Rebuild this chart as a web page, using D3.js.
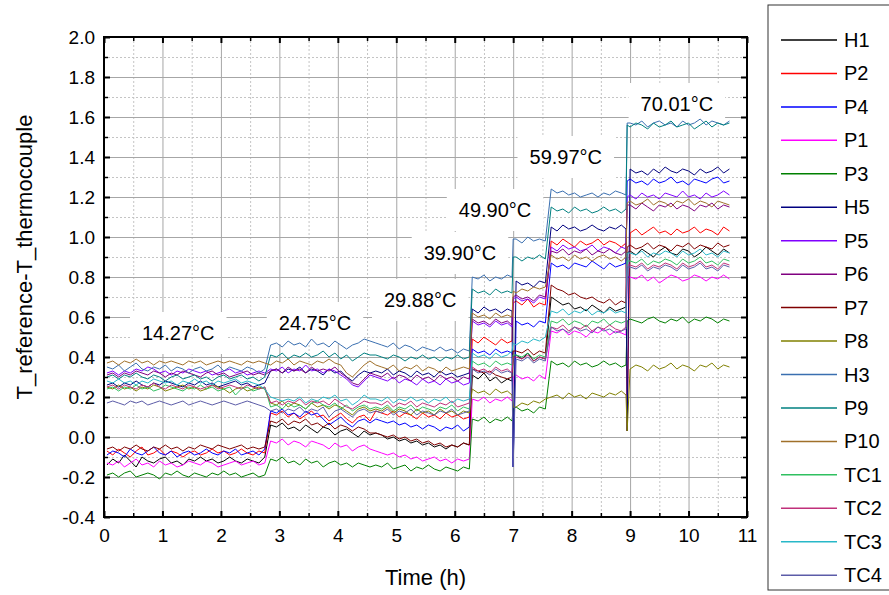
<!DOCTYPE html>
<html>
<head>
<meta charset="utf-8">
<script src="https://cdn.jsdelivr.net/npm/d3@7"></script>
<style>
  body { margin: 0; background: #fff; }
  svg { display: block; font-family: Arial, "Liberation Sans", sans-serif; }
</style>
</head>
<body>
<div id="chart"></div>
<script>
// sample times (h)
const time = [0.05,0.15,0.25,0.35,0.45,0.55,0.65,0.75,0.85,0.95,1.05,1.15,1.25,1.35,1.45,1.55,1.65,1.75,1.85,1.95,2.05,2.15,2.25,2.35,2.45,2.55,2.65,2.75,
  2.85,2.95,3.05,3.15,3.25,3.35,3.45,3.55,3.65,3.75,3.85,3.95,4.05,4.15,4.25,4.35,4.45,4.55,
  4.65,4.75,4.85,4.95,5.05,5.15,5.25,5.35,5.45,5.55,5.65,5.75,5.85,5.95,6.05,6.15,6.25,
  6.3,6.4,6.5,6.6,6.7,6.8,6.9,6.98,
  7.0,
  7.05,7.15,7.25,7.35,7.45,7.55,
  7.65,7.75,7.85,7.95,8.05,8.15,8.25,8.35,8.45,8.55,8.65,8.75,8.85,8.93,
  8.95,
  9.0,9.1,9.2,9.3,9.4,9.5,9.6,9.7,9.8,9.9,10.0,10.1,10.2,10.3,10.4,10.5,10.6,10.7];

const H1 = [-0.14,-0.11,-0.13,-0.09,-0.12,-0.15,-0.10,-0.12,-0.13,-0.11,-0.10,-0.13,-0.12,-0.14,-0.11,-0.12,-0.10,-0.12,-0.11,-0.13,-0.12,-0.10,-0.12,-0.13,-0.11,-0.12,-0.13,-0.10,
  0.06,0.05,0.07,0.04,0.05,0.03,0.06,0.04,0.02,0.05,0.04,0.01,0.03,0.04,0.02,0.00,0.03,0.01,
  0.02,0.01,-0.01,0.00,-0.02,-0.01,-0.03,-0.02,-0.04,-0.03,-0.05,-0.04,-0.06,-0.04,-0.05,-0.03,-0.04,
  0.31,0.29,0.32,0.28,0.30,0.27,0.29,0.28,
  0.40,
  0.41,0.39,0.42,0.38,0.40,0.39,
  0.70,0.68,0.66,0.67,0.64,0.65,0.63,0.66,0.64,0.62,0.65,0.63,0.64,0.65,
  0.92,
  0.93,0.91,0.94,0.92,0.90,0.93,0.95,0.92,0.91,0.94,0.93,0.90,0.92,0.95,0.93,0.91,0.94,0.92];
const P2 = [-0.07,-0.09,-0.06,-0.08,-0.10,-0.07,-0.05,-0.09,-0.08,-0.06,-0.09,-0.07,-0.08,-0.10,-0.08,-0.07,-0.09,-0.08,-0.06,-0.08,-0.07,-0.09,-0.08,-0.06,-0.08,-0.09,-0.07,-0.08,
  0.12,0.11,0.13,0.10,0.12,0.09,0.11,0.13,0.10,0.11,0.08,0.10,0.12,0.09,0.07,0.10,0.11,0.08,
  0.13,0.12,0.11,0.13,0.10,0.12,0.11,0.09,0.12,0.10,0.11,0.09,0.12,0.10,0.11,0.09,0.10,
  0.49,0.47,0.50,0.48,0.46,0.49,0.47,0.48,
  0.67,
  0.68,0.66,0.69,0.65,0.67,0.66,
  0.98,0.96,0.99,0.97,0.95,0.98,0.96,0.97,0.99,0.96,0.98,0.97,0.95,0.97,
  0.03,
  1.02,1.04,1.01,1.03,1.05,1.02,1.03,1.01,1.04,1.02,1.03,1.05,1.02,1.04,1.03,1.01,1.05,1.03];
const P4 = [-0.09,-0.07,-0.08,-0.10,-0.06,-0.08,-0.09,-0.07,-0.05,-0.08,-0.09,-0.07,-0.10,-0.08,-0.07,-0.09,-0.08,-0.06,-0.08,-0.09,-0.07,-0.08,-0.06,-0.09,-0.08,-0.07,-0.09,-0.06,
  0.13,0.12,0.14,0.11,0.12,0.10,0.13,0.11,0.12,0.09,0.06,0.08,0.10,0.07,0.05,0.08,0.09,0.07,
  0.09,0.08,0.07,0.08,0.06,0.07,0.05,0.06,0.04,0.06,0.05,0.03,0.05,0.04,0.06,0.03,0.05,
  0.44,0.42,0.43,0.41,0.44,0.42,0.43,0.42,
  -0.15,
  0.58,0.56,0.57,0.55,0.58,0.57,
  0.87,0.85,0.86,0.84,0.87,0.86,0.85,0.88,0.86,0.84,0.87,0.85,0.86,0.87,
  1.28,
  1.29,1.27,1.28,1.26,1.29,1.27,1.28,1.30,1.27,1.28,1.26,1.29,1.28,1.27,1.29,1.30,1.27,1.28];
const P1 = [-0.13,-0.14,-0.12,-0.15,-0.13,-0.11,-0.14,-0.13,-0.15,-0.12,-0.14,-0.13,-0.15,-0.14,-0.12,-0.13,-0.14,-0.12,-0.13,-0.15,-0.14,-0.13,-0.12,-0.14,-0.13,-0.12,-0.14,-0.13,
  -0.02,-0.03,-0.01,-0.04,-0.02,-0.03,-0.05,-0.02,-0.03,-0.04,-0.06,-0.03,-0.05,-0.04,-0.07,-0.05,-0.04,-0.06,
  -0.07,-0.08,-0.09,-0.08,-0.10,-0.09,-0.11,-0.10,-0.12,-0.11,-0.10,-0.12,-0.11,-0.13,-0.11,-0.12,-0.11,
  0.19,0.18,0.20,0.17,0.19,0.18,0.20,0.18,
  0.30,
  0.31,0.29,0.30,0.28,0.31,0.29,
  0.53,0.52,0.54,0.51,0.53,0.52,0.50,0.53,0.52,0.54,0.51,0.53,0.52,0.51,
  0.80,
  0.80,0.79,0.81,0.78,0.80,0.77,0.79,0.81,0.80,0.78,0.79,0.81,0.80,0.78,0.80,0.79,0.81,0.79];
const P3 = [-0.19,-0.18,-0.20,-0.18,-0.17,-0.20,-0.19,-0.18,-0.19,-0.21,-0.18,-0.19,-0.17,-0.19,-0.20,-0.18,-0.19,-0.20,-0.18,-0.19,-0.17,-0.19,-0.18,-0.20,-0.19,-0.18,-0.20,-0.19,
  -0.11,-0.12,-0.10,-0.13,-0.12,-0.14,-0.11,-0.13,-0.12,-0.15,-0.13,-0.12,-0.14,-0.13,-0.15,-0.13,-0.14,-0.15,
  -0.14,-0.15,-0.13,-0.16,-0.15,-0.14,-0.17,-0.15,-0.16,-0.14,-0.16,-0.17,-0.15,-0.16,-0.17,-0.15,-0.16,
  0.09,0.08,0.10,0.07,0.09,0.08,0.10,0.08,
  0.14,
  0.15,0.13,0.14,0.12,0.15,0.14,
  0.38,0.36,0.37,0.35,0.38,0.36,0.37,0.35,0.36,0.38,0.36,0.37,0.35,0.36,
  0.58,
  0.59,0.58,0.57,0.59,0.60,0.58,0.57,0.59,0.58,0.60,0.57,0.59,0.58,0.60,0.59,0.57,0.59,0.58];
const H5 = [0.26,0.27,0.25,0.27,0.26,0.28,0.26,0.25,0.27,0.26,0.28,0.27,0.26,0.25,0.27,0.26,0.28,0.26,0.27,0.25,0.26,0.27,0.28,0.26,0.27,0.25,0.26,0.27,
  0.33,0.34,0.32,0.34,0.33,0.35,0.32,0.34,0.33,0.31,0.34,0.32,0.33,0.30,0.28,0.31,0.33,0.32,
  0.33,0.32,0.34,0.31,0.33,0.32,0.30,0.33,0.31,0.32,0.30,0.33,0.31,0.32,0.30,0.31,0.32,
  0.64,0.62,0.65,0.63,0.64,0.62,0.64,0.63,
  -0.15,
  0.78,0.76,0.77,0.75,0.78,0.77,
  1.05,1.03,1.06,1.04,1.05,1.03,1.04,1.06,1.04,1.03,1.05,1.04,1.06,1.04,
  0.03,
  1.34,1.32,1.33,1.31,1.34,1.32,1.35,1.33,1.32,1.34,1.33,1.31,1.34,1.32,1.33,1.35,1.32,1.34];
const P5 = [0.32,0.33,0.31,0.33,0.32,0.34,0.33,0.35,0.34,0.32,0.33,0.31,0.33,0.32,0.34,0.33,0.32,0.33,0.31,0.32,0.33,0.34,0.32,0.33,0.31,0.32,0.33,0.32,
  0.34,0.33,0.35,0.32,0.34,0.33,0.36,0.33,0.34,0.32,0.34,0.33,0.31,0.29,0.26,0.25,0.28,0.31,
  0.30,0.29,0.28,0.30,0.27,0.29,0.28,0.26,0.29,0.27,0.28,0.26,0.29,0.27,0.28,0.26,0.27,
  0.58,0.56,0.57,0.55,0.58,0.56,0.57,0.55,
  0.69,
  0.70,0.68,0.69,0.67,0.70,0.69,
  0.95,0.93,0.96,0.94,0.95,0.93,0.94,0.96,0.93,0.95,0.94,0.92,0.95,0.94,
  1.20,
  1.21,1.19,1.22,1.20,1.21,1.19,1.22,1.21,1.20,1.23,1.20,1.21,1.19,1.22,1.20,1.21,1.23,1.21];
const P6 = [0.31,0.32,0.30,0.32,0.31,0.33,0.32,0.31,0.33,0.32,0.30,0.32,0.31,0.33,0.32,0.31,0.30,0.32,0.33,0.31,0.32,0.30,0.31,0.32,0.33,0.31,0.32,0.31,
  0.33,0.34,0.32,0.35,0.33,0.34,0.32,0.35,0.33,0.34,0.33,0.35,0.32,0.30,0.27,0.26,0.29,0.32,
  0.31,0.30,0.32,0.29,0.31,0.30,0.28,0.31,0.29,0.30,0.28,0.31,0.29,0.30,0.28,0.30,0.29,
  0.59,0.57,0.58,0.56,0.59,0.57,0.58,0.56,
  0.70,
  0.71,0.69,0.70,0.68,0.71,0.70,
  0.93,0.92,0.94,0.91,0.93,0.92,0.94,0.91,0.93,0.92,0.94,0.92,0.91,0.93,
  1.16,
  1.16,1.14,1.17,1.15,1.13,1.16,1.15,1.17,1.14,1.16,1.15,1.13,1.16,1.15,1.17,1.14,1.16,1.15];
const P7 = [-0.06,-0.05,-0.07,-0.05,-0.06,-0.04,-0.06,-0.07,-0.05,-0.06,-0.04,-0.06,-0.05,-0.07,-0.05,-0.06,-0.04,-0.05,-0.06,-0.04,-0.05,-0.06,-0.05,-0.04,-0.06,-0.05,-0.06,-0.05,
  0.08,0.07,0.09,0.06,0.08,0.07,0.09,0.06,0.07,0.05,0.07,0.04,0.06,0.05,0.03,0.05,0.04,0.02,
  0.02,0.01,0.00,0.01,-0.01,0.00,-0.02,-0.01,-0.03,-0.02,-0.04,-0.03,-0.05,-0.04,-0.05,-0.03,-0.04,
  0.34,0.33,0.32,0.33,0.31,0.30,0.29,0.30,
  0.43,
  0.43,0.42,0.44,0.41,0.43,0.42,
  0.76,0.74,0.73,0.71,0.72,0.70,0.69,0.70,0.68,0.67,0.69,0.66,0.68,0.67,
  0.95,
  0.96,0.94,0.95,0.97,0.94,0.96,0.95,0.93,0.96,0.95,0.97,0.94,0.96,0.95,0.94,0.97,0.95,0.96];
const P8 = [0.25,0.24,0.26,0.24,0.25,0.23,0.25,0.24,0.26,0.25,0.23,0.24,0.25,0.26,0.24,0.25,0.23,0.24,0.26,0.25,0.24,0.22,0.24,0.25,0.23,0.24,0.25,0.24,
  0.17,0.16,0.18,0.15,0.17,0.16,0.14,0.17,0.15,0.16,0.14,0.16,0.15,0.13,0.11,0.14,0.15,0.13,
  0.14,0.13,0.15,0.12,0.14,0.13,0.11,0.14,0.12,0.13,0.11,0.14,0.12,0.13,0.11,0.13,0.12,
  0.24,0.22,0.23,0.21,0.24,0.22,0.23,0.21,
  0.15,
  0.15,0.17,0.16,0.18,0.17,0.19,
  0.20,0.21,0.19,0.22,0.20,0.21,0.19,0.22,0.21,0.20,0.22,0.21,0.23,0.21,
  0.03,
  0.34,0.36,0.35,0.33,0.36,0.34,0.35,0.37,0.34,0.36,0.35,0.33,0.36,0.35,0.37,0.34,0.36,0.35];
const H3 = [0.35,0.34,0.36,0.33,0.35,0.37,0.34,0.33,0.35,0.34,0.36,0.33,0.35,0.34,0.32,0.34,0.35,0.33,0.34,0.36,0.33,0.35,0.34,0.33,0.35,0.34,0.32,0.34,
  0.46,0.47,0.45,0.48,0.46,0.47,0.45,0.49,0.46,0.47,0.45,0.48,0.46,0.44,0.46,0.47,0.49,0.48,
  0.47,0.46,0.45,0.47,0.44,0.46,0.45,0.43,0.45,0.44,0.43,0.45,0.43,0.44,0.42,0.44,0.43,
  0.80,0.79,0.81,0.78,0.80,0.79,0.81,0.80,
  0.99,
  0.99,0.97,1.00,0.98,0.99,0.98,
  1.24,1.22,1.23,1.21,1.22,1.20,1.21,1.22,1.20,1.22,1.21,1.23,1.22,1.21,
  1.57,
  1.57,1.56,1.58,1.55,1.57,1.58,1.56,1.57,1.55,1.58,1.56,1.57,1.59,1.56,1.58,1.57,1.56,1.58];
const P9 = [0.30,0.31,0.29,0.31,0.30,0.32,0.30,0.29,0.31,0.30,0.28,0.30,0.31,0.29,0.30,0.31,0.29,0.30,0.28,0.30,0.31,0.29,0.30,0.31,0.29,0.30,0.28,0.30,
  0.41,0.40,0.42,0.39,0.41,0.40,0.42,0.40,0.41,0.43,0.40,0.42,0.39,0.41,0.38,0.40,0.42,0.41,
  0.41,0.40,0.39,0.41,0.40,0.38,0.40,0.39,0.41,0.39,0.40,0.38,0.40,0.39,0.41,0.39,0.40,
  0.74,0.72,0.73,0.71,0.74,0.72,0.73,0.72,
  0.90,
  0.90,0.88,0.90,0.89,0.91,0.89,
  1.15,1.13,1.14,1.12,1.15,1.13,1.14,1.12,1.13,1.15,1.13,1.14,1.12,1.14,
  1.56,
  1.55,1.57,1.56,1.54,1.57,1.55,1.56,1.58,1.55,1.56,1.57,1.54,1.56,1.58,1.55,1.57,1.56,1.57];
const P10 = [0.37,0.38,0.36,0.38,0.37,0.39,0.37,0.38,0.36,0.38,0.37,0.38,0.37,0.36,0.38,0.37,0.38,0.36,0.37,0.38,0.37,0.38,0.37,0.36,0.38,0.37,0.38,0.37,
  0.36,0.38,0.37,0.39,0.36,0.38,0.37,0.36,0.38,0.37,0.39,0.37,0.36,0.32,0.30,0.33,0.36,0.38,
  0.36,0.35,0.34,0.36,0.33,0.35,0.34,0.36,0.33,0.35,0.34,0.32,0.35,0.33,0.34,0.35,0.34,
  0.62,0.60,0.61,0.59,0.62,0.60,0.61,0.60,
  0.73,
  0.72,0.74,0.73,0.75,0.74,0.75,
  0.91,0.89,0.90,0.88,0.91,0.89,0.90,0.88,0.90,0.91,0.89,0.90,0.88,0.90,
  1.17,
  1.18,1.16,1.17,1.19,1.16,1.18,1.17,1.15,1.18,1.17,1.19,1.16,1.18,1.17,1.15,1.18,1.17,1.16];
const TC1 = [0.24,0.25,0.23,0.25,0.24,0.26,0.24,0.25,0.23,0.24,0.26,0.25,0.24,0.23,0.25,0.24,0.26,0.24,0.25,0.23,0.24,0.25,0.21,0.24,0.25,0.23,0.24,0.25,
  0.15,0.16,0.14,0.17,0.15,0.16,0.14,0.17,0.18,0.16,0.15,0.17,0.14,0.16,0.13,0.15,0.16,0.14,
  0.15,0.14,0.16,0.13,0.15,0.14,0.16,0.13,0.15,0.14,0.13,0.15,0.14,0.16,0.13,0.15,0.14,
  0.38,0.36,0.37,0.35,0.38,0.36,0.37,0.36,
  0.41,
  0.41,0.40,0.42,0.39,0.41,0.40,
  0.58,0.57,0.59,0.56,0.58,0.57,0.55,0.58,0.57,0.59,0.56,0.58,0.57,0.58,
  0.88,
  0.88,0.87,0.89,0.86,0.88,0.87,0.89,0.88,0.86,0.89,0.87,0.88,0.90,0.87,0.88,0.86,0.89,0.88];
const TC2 = [0.25,0.26,0.24,0.26,0.25,0.24,0.26,0.25,0.27,0.25,0.24,0.26,0.25,0.24,0.26,0.25,0.24,0.25,0.26,0.24,0.25,0.26,0.25,0.24,0.26,0.25,0.24,0.25,
  0.17,0.18,0.16,0.18,0.17,0.19,0.16,0.18,0.17,0.18,0.16,0.19,0.17,0.15,0.14,0.16,0.18,0.17,
  0.17,0.16,0.18,0.15,0.17,0.16,0.18,0.15,0.17,0.16,0.15,0.17,0.16,0.18,0.15,0.16,0.17,
  0.35,0.33,0.34,0.32,0.35,0.33,0.34,0.32,
  0.40,
  0.40,0.39,0.41,0.38,0.40,0.39,
  0.55,0.54,0.56,0.53,0.55,0.54,0.56,0.53,0.55,0.54,0.56,0.54,0.53,0.55,
  0.86,
  0.86,0.85,0.87,0.84,0.86,0.85,0.87,0.86,0.84,0.87,0.85,0.86,0.88,0.85,0.86,0.84,0.87,0.86];
const TC3 = [0.28,0.27,0.29,0.27,0.28,0.26,0.28,0.27,0.29,0.28,0.27,0.28,0.26,0.28,0.27,0.29,0.27,0.28,0.26,0.28,0.27,0.28,0.29,0.27,0.28,0.27,0.26,0.24,
  0.20,0.19,0.18,0.19,0.18,0.20,0.17,0.19,0.18,0.20,0.19,0.21,0.18,0.19,0.16,0.18,0.21,0.19,
  0.19,0.18,0.20,0.17,0.19,0.18,0.20,0.18,0.19,0.17,0.19,0.18,0.20,0.17,0.19,0.18,0.19,
  0.42,0.40,0.41,0.39,0.42,0.40,0.41,0.43,
  0.47,
  0.46,0.48,0.47,0.49,0.48,0.50,
  0.63,0.62,0.64,0.61,0.63,0.62,0.64,0.61,0.63,0.62,0.64,0.62,0.63,0.62,
  0.92,
  0.92,0.91,0.93,0.90,0.92,0.91,0.93,0.92,0.90,0.93,0.91,0.92,0.94,0.91,0.92,0.90,0.93,0.92];
const TC4 = [0.17,0.18,0.17,0.16,0.18,0.17,0.18,0.16,0.17,0.18,0.17,0.16,0.17,0.18,0.16,0.17,0.18,0.17,0.16,0.17,0.18,0.17,0.16,0.17,0.18,0.17,0.16,0.15,
  0.13,0.14,0.12,0.14,0.13,0.15,0.12,0.14,0.13,0.15,0.10,0.13,0.14,0.12,0.10,0.13,0.14,0.12,
  0.13,0.12,0.14,0.11,0.13,0.12,0.14,0.11,0.13,0.12,0.11,0.13,0.12,0.14,0.11,0.12,0.13,
  0.34,0.32,0.33,0.31,0.34,0.32,0.33,0.32,
  -0.15,
  0.39,0.38,0.40,0.37,0.39,0.38,
  0.55,0.53,0.54,0.52,0.55,0.53,0.54,0.52,0.55,0.53,0.54,0.52,0.53,0.54,
  0.85,
  0.85,0.84,0.86,0.83,0.85,0.84,0.86,0.85,0.83,0.86,0.84,0.85,0.87,0.84,0.85,0.83,0.86,0.85];

const seriesNames = ['H1','P2','P4','P1','P3','H5','P5','P6','P7','P8','H3','P9','P10','TC1','TC2','TC3','TC4'];
const seriesValues = [H1,P2,P4,P1,P3,H5,P5,P6,P7,P8,H3,P9,P10,TC1,TC2,TC3,TC4];
const seriesColors = ['#000000','#ff0000','#0000ff','#ff00ff','#008000','#000080','#8000ff','#800080',
  '#800000','#808000','#3a6fb0','#008080','#a0702a','#30c060','#c0307a','#28b8c8','#5c5ca8'];

// setpoint temperature annotations, anchored in data units
const annotText = ['14.27°C','24.75°C','29.88°C','39.90°C','49.90°C','59.97°C','70.01°C'];
const annotTime = [1.27, 3.61, 5.41, 6.09, 6.69, 7.90, 9.80];
const annotValue = [0.52, 0.57, 0.685, 0.92, 1.135, 1.40, 1.665];

const xMajor = [0,1,2,3,4,5,6,7,8,9,10,11];
const xMinor = [0.5,1.5,2.5,3.5,4.5,5.5,6.5,7.5,8.5,9.5,10.5];
const yMajor = [-0.4,-0.2,0,0.2,0.4,0.6,0.8,1.0,1.2,1.4,1.6,1.8,2.0];
const yMinor = [-0.3,-0.1,0.1,0.3,0.5,0.7,0.9,1.1,1.3,1.5,1.7,1.9];

const W = 889, H = 595;
const margin = {top: 37, right: 142, bottom: 78, left: 104};
const width = W - margin.left - margin.right,
      height = H - margin.top - margin.bottom;

const svg = d3.select('#chart').append('svg')
  .attr('width', W)
  .attr('height', H);

svg.append('rect').attr('width', W).attr('height', H).attr('fill', '#fff');

const g = svg.append('g')
  .attr('transform', 'translate(' + margin.left + ',' + margin.top + ')');

const x = d3.scaleLinear().domain([0, 11]).range([0, width]);
const y = d3.scaleLinear().domain([-0.4, 2.0]).range([height, 0]);

// grid: minor dotted, major solid
function grid(sel, color, dash) {
  sel.select('.domain').remove();
  sel.selectAll('.tick line').attr('stroke', color).attr('stroke-width', 1)
    .attr('stroke-dasharray', dash);
}
g.append('g')
  .call(d3.axisBottom(x).tickValues(xMinor).tickSize(height).tickFormat(''))
  .call(grid, '#c4c4c4', '2,2');
g.append('g')
  .call(d3.axisRight(y).tickValues(yMinor).tickSize(width).tickFormat(''))
  .call(grid, '#c4c4c4', '2,2');
g.append('g')
  .call(d3.axisBottom(x).tickValues(xMajor.slice(1, -1)).tickSize(height).tickFormat(''))
  .call(grid, '#a6a6a6', null);
g.append('g')
  .call(d3.axisRight(y).tickValues(yMajor.slice(1, -1)).tickSize(width).tickFormat(''))
  .call(grid, '#a6a6a6', null);

// temperature labels on white boxes
const annot = g.append('g');
annotText.forEach(function (t, i) {
  const a = annot.append('g');
  const txt = a.append('text')
    .attr('x', x(annotTime[i]))
    .attr('y', y(annotValue[i]))
    .attr('text-anchor', 'middle')
    .attr('dominant-baseline', 'central')
    .attr('font-size', 20)
    .text(t);
  const bb = txt.node().getBBox();
  a.insert('rect', 'text')
    .attr('x', bb.x - 12).attr('y', bb.y - 10)
    .attr('width', bb.width + 24).attr('height', bb.height + 20)
    .attr('fill', '#fff');
});

// data lines
const line = d3.line()
  .x(function (d, i) { return x(time[i]); })
  .y(function (d) { return y(d); });

g.append('g').selectAll('path')
  .data(seriesValues)
  .enter().append('path')
  .attr('d', line)
  .attr('fill', 'none')
  .attr('stroke', function (d, i) { return seriesColors[i]; })
  .attr('stroke-width', 1)
  .attr('stroke-linejoin', 'round');

// frame with inward ticks on all four sides
function styleAxis(sel, size) {
  sel.select('.domain').remove();
  sel.selectAll('.tick line').attr('stroke', '#000').attr('stroke-width', size);
  sel.selectAll('.tick text').attr('font-size', 19).attr('fill', '#000')
    .attr('font-family', 'Arial, "Liberation Sans", sans-serif');
}
g.append('g').attr('transform', 'translate(0,' + height + ')')
  .call(d3.axisBottom(x).tickValues(xMajor).tickSizeInner(-6).tickSizeOuter(0).tickPadding(12).tickFormat(d3.format('d')))
  .call(styleAxis, 2);
g.append('g').attr('transform', 'translate(0,' + height + ')')
  .call(d3.axisBottom(x).tickValues(xMinor).tickSize(-4).tickFormat(''))
  .call(styleAxis, 1.5);
g.append('g')
  .call(d3.axisTop(x).tickValues(xMajor).tickSize(-6).tickFormat(''))
  .call(styleAxis, 2);
g.append('g')
  .call(d3.axisTop(x).tickValues(xMinor).tickSize(-4).tickFormat(''))
  .call(styleAxis, 1.5);
g.append('g')
  .call(d3.axisLeft(y).tickValues(yMajor).tickSizeInner(-6).tickSizeOuter(0).tickPadding(9)
    .tickFormat(function (d) { return d.toFixed(1); }))
  .call(styleAxis, 2);
g.append('g')
  .call(d3.axisLeft(y).tickValues(yMinor).tickSize(-4).tickFormat(''))
  .call(styleAxis, 1.5);
g.append('g').attr('transform', 'translate(' + width + ',0)')
  .call(d3.axisRight(y).tickValues(yMajor).tickSize(-6).tickFormat(''))
  .call(styleAxis, 2);
g.append('g').attr('transform', 'translate(' + width + ',0)')
  .call(d3.axisRight(y).tickValues(yMinor).tickSize(-4).tickFormat(''))
  .call(styleAxis, 1.5);

g.append('rect')
  .attr('width', width).attr('height', height)
  .attr('fill', 'none').attr('stroke', '#000').attr('stroke-width', 2);

// axis titles
g.append('text')
  .attr('x', width / 2).attr('y', height + 68)
  .attr('text-anchor', 'middle')
  .attr('font-size', 22)
  .text('Time (h)');
g.append('text')
  .attr('transform', 'translate(-72,' + (height / 2 - 20) + ') rotate(-90)')
  .attr('text-anchor', 'middle')
  .attr('font-size', 22)
  .text('T_reference-T_thermocouple');

// legend
const legend = svg.append('g').attr('transform', 'translate(768,5)');
legend.append('rect')
  .attr('width', 135).attr('height', 585)
  .attr('fill', '#fff').attr('stroke', '#333').attr('stroke-width', 1);
const item = legend.selectAll('g.item')
  .data(seriesNames)
  .enter().append('g')
  .attr('class', 'item')
  .attr('transform', function (d, i) { return 'translate(0,' + (35 + i * 33.45) + ')'; });
item.append('line')
  .attr('x1', 13).attr('x2', 69)
  .attr('stroke', function (d, i) { return seriesColors[i]; })
  .attr('stroke-width', 1.5);
item.append('text')
  .attr('x', 76).attr('y', 7)
  .attr('font-size', 20)
  .text(function (d) { return d; });
</script>
</body>
</html>
